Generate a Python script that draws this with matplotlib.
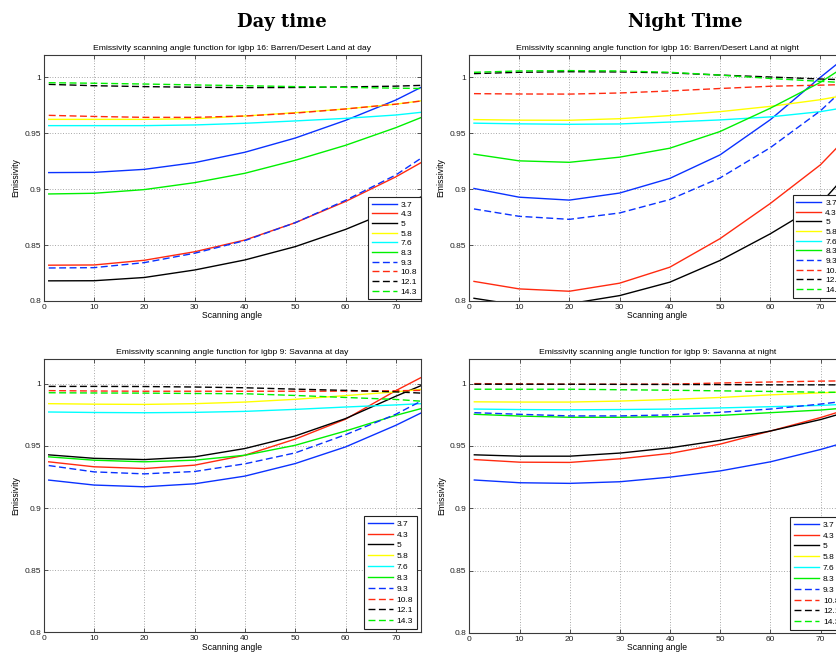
import matplotlib.pyplot as plt

# --- Style ---
plt.rcParams.update(
    {
        "font.family": ["Liberation Sans", "DejaVu Sans"],
        "font.size": 6,
        "axes.titlesize": 6.1,
        "axes.labelsize": 6.2,
        "xtick.labelsize": 6,
        "ytick.labelsize": 6,
        "legend.fontsize": 6,
        "axes.linewidth": 0.8,
        "axes.edgecolor": "#3a3a3a",
        "xtick.direction": "in",
        "ytick.direction": "in",
        "xtick.major.size": 3,
        "ytick.major.size": 3,
        "xtick.major.width": 0.6,
        "ytick.major.width": 0.6,
        "xtick.color": "#3a3a3a",
        "ytick.color": "#3a3a3a",
        "xtick.labelcolor": "#222222",
        "ytick.labelcolor": "#222222",
    }
)

# Scanning angles at which each curve is sampled
angle = [1, 10, 20, 30, 40, 50, 60, 70, 75]

bands = ["3.7", "4.3", "5", "5.8", "7.6", "8.3", "9.3", "10.8", "12.1", "14.3"]
band_colors = ["#0a32ff", "#ff2a10", "#000000", "#ffff00", "#00ffff", "#00f000",
               "#0a32ff", "#ff2a10", "#000000", "#00f000"]
band_dashed = [False] * 6 + [True] * 4

# igbp 16: Barren/Desert Land, day
barren_day = [
    [0.9148, 0.9150, 0.9177, 0.9237, 0.9330, 0.9457, 0.9615, 0.9797, 0.9910],
    [0.8320, 0.8322, 0.8364, 0.8440, 0.8545, 0.8700, 0.8890, 0.9110, 0.9237],
    [0.8180, 0.8181, 0.8210, 0.8277, 0.8367, 0.8486, 0.8640, 0.8825, 0.8930],
    [0.9624, 0.9624, 0.9624, 0.9630, 0.9654, 0.9684, 0.9717, 0.9760, 0.9790],
    [0.9568, 0.9568, 0.9568, 0.9574, 0.9589, 0.9610, 0.9633, 0.9663, 0.9687],
    [0.8957, 0.8963, 0.8996, 0.9058, 0.9142, 0.9258, 0.9392, 0.9550, 0.9640],
    [0.8295, 0.8298, 0.8343, 0.8427, 0.8540, 0.8700, 0.8900, 0.9127, 0.9276],
    [0.9660, 0.9650, 0.9642, 0.9642, 0.9654, 0.9680, 0.9717, 0.9760, 0.9788],
    [0.9937, 0.9925, 0.9917, 0.9911, 0.9908, 0.9909, 0.9914, 0.9921, 0.9928],
    [0.9952, 0.9947, 0.9940, 0.9932, 0.9925, 0.9917, 0.9910, 0.9903, 0.9900],
]

# igbp 16: Barren/Desert Land, night
barren_night = [
    [0.9006, 0.8928, 0.8902, 0.8965, 0.9096, 0.9306, 0.9620, 1.0000, 1.0180],
    [0.8175, 0.8108, 0.8087, 0.8159, 0.8302, 0.8557, 0.8871, 0.9217, 0.9450],
    [0.8024, 0.7962, 0.7975, 0.8048, 0.8168, 0.8362, 0.8600, 0.8870, 0.9120],
    [0.9622, 0.9617, 0.9616, 0.9630, 0.9658, 0.9693, 0.9740, 0.9800, 0.9840],
    [0.9590, 0.9584, 0.9580, 0.9583, 0.9600, 0.9619, 0.9646, 0.9693, 0.9730],
    [0.9313, 0.9253, 0.9240, 0.9286, 0.9366, 0.9515, 0.9723, 0.9955, 1.0100],
    [0.8823, 0.8757, 0.8730, 0.8787, 0.8907, 0.9100, 0.9370, 0.9700, 0.9910],
    [0.9854, 0.9851, 0.9850, 0.9860, 0.9878, 0.9900, 0.9920, 0.9930, 0.9935],
    [1.0033, 1.0045, 1.0050, 1.0048, 1.0040, 1.0020, 1.0003, 0.9985, 0.9978],
    [1.0045, 1.0057, 1.0060, 1.0057, 1.0045, 1.0020, 0.9990, 0.9964, 0.9952],
]

# igbp 9: Savanna, day
savanna_day = [
    [0.9225, 0.9185, 0.9171, 0.9195, 0.9257, 0.9358, 0.9492, 0.9666, 0.9765],
    [0.9372, 0.9332, 0.9318, 0.9345, 0.9425, 0.9555, 0.9715, 0.9945, 1.0050],
    [0.9428, 0.9400, 0.9390, 0.9412, 0.9479, 0.9580, 0.9720, 0.9900, 0.9985],
    [0.9840, 0.9836, 0.9834, 0.9840, 0.9853, 0.9875, 0.9905, 0.9935, 0.9955],
    [0.9773, 0.9769, 0.9767, 0.9770, 0.9778, 0.9794, 0.9813, 0.9830, 0.9840],
    [0.9412, 0.9385, 0.9372, 0.9385, 0.9425, 0.9505, 0.9620, 0.9746, 0.9800],
    [0.9342, 0.9291, 0.9275, 0.9294, 0.9356, 0.9444, 0.9590, 0.9755, 0.9860],
    [0.9945, 0.9942, 0.9940, 0.9940, 0.9940, 0.9940, 0.9941, 0.9944, 0.9947],
    [0.9979, 0.9979, 0.9978, 0.9974, 0.9968, 0.9957, 0.9947, 0.9935, 0.9925],
    [0.9928, 0.9926, 0.9925, 0.9922, 0.9920, 0.9906, 0.9890, 0.9874, 0.9860],
]

# igbp 9: Savanna, night
savanna_night = [
    [0.9227, 0.9205, 0.9200, 0.9213, 0.9250, 0.9300, 0.9373, 0.9472, 0.9530],
    [0.9391, 0.9370, 0.9368, 0.9397, 0.9440, 0.9515, 0.9620, 0.9728, 0.9790],
    [0.9429, 0.9418, 0.9418, 0.9443, 0.9485, 0.9545, 0.9620, 0.9712, 0.9770],
    [0.9854, 0.9852, 0.9852, 0.9860, 0.9873, 0.9889, 0.9910, 0.9926, 0.9933],
    [0.9796, 0.9792, 0.9790, 0.9792, 0.9796, 0.9805, 0.9815, 0.9825, 0.9835],
    [0.9754, 0.9740, 0.9730, 0.9730, 0.9735, 0.9745, 0.9767, 0.9788, 0.9805],
    [0.9767, 0.9754, 0.9741, 0.9741, 0.9749, 0.9770, 0.9796, 0.9836, 0.9860],
    [1.0000, 0.9998, 0.9995, 0.9995, 0.9996, 1.0005, 1.0013, 1.0020, 1.0022],
    [0.9995, 0.9995, 0.9995, 0.9994, 0.9993, 0.9992, 0.9990, 0.9990, 0.9990],
    [0.9955, 0.9955, 0.9955, 0.9951, 0.9947, 0.9942, 0.9937, 0.9931, 0.9930],
]

x_ticks = [0, 10, 20, 30, 40, 50, 60, 70]
y_ticks = [0.8, 0.85, 0.9, 0.95, 1.0]
y_ticklabels = ["0.8", "0.85", "0.9", "0.95", "1"]


def emissivity_panel(fig, rect, curves, title, legend_anchor, legend_spacing):
    """One MATLAB-style emissivity vs scanning angle panel."""
    ax = fig.add_axes(rect)
    for name, values, color, dashed in zip(bands, curves, band_colors, band_dashed):
        ax.plot(angle, values, color=color, linewidth=1.0, label=name,
                dashes=(5, 2.5) if dashed else (None, None))

    ax.set_xlim(0, 75)
    ax.set_ylim(0.8, 1.02)
    ax.set_xticks(x_ticks)
    ax.set_yticks(y_ticks)
    ax.set_yticklabels(y_ticklabels)
    ax.tick_params(top=True, right=True, pad=2)
    ax.grid(True, color="#8a8a8a", linestyle=(0, (1, 2.2)), linewidth=0.6)

    ax.set_xlabel("Scanning angle", labelpad=0.5)
    ax.set_ylabel("Emissivity", labelpad=3)
    ax.set_title(title, pad=3.5)

    leg = ax.legend(loc="lower right", bbox_to_anchor=legend_anchor, borderaxespad=0,
                    handlelength=3.0, handletextpad=0.45, labelspacing=legend_spacing,
                    borderpad=0.45, fancybox=False, framealpha=1, edgecolor="#222222")
    leg.get_frame().set_linewidth(0.8)
    return ax


fig = plt.figure(figsize=(8.37, 6.55), dpi=100)

emissivity_panel(fig, [0.0522, 0.5405, 0.4508, 0.3756], barren_day,
                 "Emissivity scanning angle function for igbp 16: Barren/Desert Land at day",
                 (1.0, 0.007), 0.22)
emissivity_panel(fig, [0.5603, 0.5405, 0.4498, 0.3756], barren_night,
                 "Emissivity scanning angle function for igbp 16: Barren/Desert Land at night",
                 (1.0, 0.013), 0.22)
emissivity_panel(fig, [0.0522, 0.0347, 0.4508, 0.4173], savanna_day,
                 "Emissivity scanning angle function for igbp 9: Savanna at day",
                 (0.989, 0.012), 0.36)
emissivity_panel(fig, [0.5607, 0.0336, 0.4498, 0.4188], savanna_night,
                 "Emissivity scanning angle function for igbp 9: Savanna at night",
                 (0.993, 0.011), 0.36)

heading = dict(family="DejaVu Serif", fontweight="bold", fontsize=13,
               ha="center", va="center")
fig.text(282 / 837, 1 - 22 / 655, "Day time", **heading)
fig.text(685 / 837, 1 - 22 / 655, "Night Time", **heading)

fig.savefig("out.png", dpi=100)
